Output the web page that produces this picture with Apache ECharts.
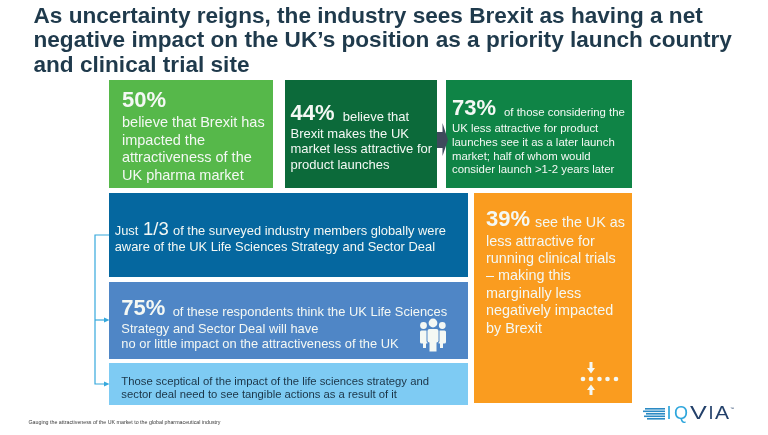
<!DOCTYPE html>
<html>
<head>
<meta charset="utf-8">
<style>
  html, body { margin: 0; padding: 0; background: #fff; }
  #chart { width: 768px; height: 435px; }
</style>
<script src="https://cdn.jsdelivr.net/npm/echarts@6/dist/echarts.min.js"></script>
</head>
<body>
<div id="chart"></div>
<script>
// text
const titleLines = [
  'As uncertainty reigns, the industry sees Brexit as having a net',
  'negative impact on the UK\u2019s position as a priority launch country',
  'and clinical trial site'
];
const headlineValues = ['50%', '44%', '73%', '1/3', '75%', '39%'];
const box1Lines = ['believe that Brexit has', 'impacted the', 'attractiveness of the', 'UK pharma market'];
const box2Lead = 'believe that';
const box2Lines = ['Brexit makes the UK', 'market less attractive for', 'product launches'];
const box3Lead = 'of those considering the';
const box3Lines = ['UK less attractive for product', 'launches see it as a later launch', 'market; half of whom would', 'consider launch >1-2 years later'];
const box4Start = 'Just';
const box4Lead = 'of the surveyed industry members globally were';
const box4Lines = ['aware of the UK Life Sciences Strategy and Sector Deal'];
const box5Lead = 'of these respondents think the UK Life Sciences';
const box5Lines = ['Strategy and Sector Deal will have', 'no or little impact on the attractiveness of the UK'];
const box6Lines = ['Those sceptical of the impact of the life sciences strategy and', 'sector deal need to see tangible actions as a result of it'];
const box7Lead = 'see the UK as';
const box7Lines = ['less attractive for', 'running clinical trials', '\u2013 making this', 'marginally less', 'negatively impacted', 'by Brexit'];
const footnote = 'Gauging the attractiveness of the UK market to the global pharmaceutical industry';
const logoLetters = ['I', 'Q', 'V', 'I', 'A'];

const FONT = '"Liberation Sans", Arial, sans-serif';
const els = [];

// canvas text is placed by its middle, so go from baseline to middle here
function txt(s, x, base, size, fill, bold, align, scaleX) {
  els.push({
    type: 'text', silent: true,
    x: x, y: base + 1 - size * 0.346, scaleX: scaleX || 1,
    style: {
      text: s,
      font: (bold ? 'bold ' : '') + size + 'px ' + FONT,
      fill: fill, textAlign: align || 'left', textVerticalAlign: 'middle'
    }
  });
}
function lines(arr, x, bases, size, fill) {
  arr.forEach(function (s, i) { txt(s, x, bases[i], size, fill); });
}
function rect(x, y, w, h, fill, r) {
  els.push({ type: 'rect', silent: true, shape: { x: x, y: y, width: w, height: h, r: r || 0 }, style: { fill: fill } });
}
function circle(cx, cy, r, fill) {
  els.push({ type: 'circle', silent: true, shape: { cx: cx, cy: cy, r: r }, style: { fill: fill } });
}
function poly(points, fill) {
  els.push({ type: 'polygon', silent: true, shape: { points: points }, style: { fill: fill } });
}
function wire(points, color) {
  els.push({ type: 'polyline', silent: true, shape: { points: points }, style: { stroke: color, lineWidth: 1.2, fill: null } });
}

const WHITE = '#f4f8f4';
const DARK = '#1f3a4c';
const LINK = '#35a8dc';

// title
[23.5, 48, 72.5].forEach(function (b, i) { txt(titleLines[i], 33.5, b, 22.6, DARK, true); });

// boxes
rect(109, 80, 164, 108, '#56b84a');
rect(285, 80, 152, 108, '#0c6a3a');
rect(446, 80, 186, 108, '#0f8446');
rect(109, 193, 359, 84, '#05679f');
rect(109, 282, 359, 77, '#4f86c6');
rect(109, 363, 359, 42, '#7ecbf3');
rect(474, 193, 158, 210, '#fa9c1f');

// arrow box 2 -> box 3
poly([[437, 132], [442.5, 132], [442.5, 123], [448, 140], [442.5, 156], [442.5, 148], [437, 148]], '#3e4a5c');

// connector on the left
wire([[109, 235], [95, 235], [95, 384], [105, 384]], LINK);
wire([[95, 320], [105, 320]], LINK);
poly([[104, 317.5], [109.5, 320], [104, 322.5]], LINK);
poly([[104, 381.5], [109.5, 384], [104, 386.5]], LINK);

// box 1
txt(headlineValues[0], 122, 108, 22, WHITE, true);
lines(box1Lines, 122, [127.3, 145, 162.5, 180], 14.5, WHITE);

// box 2
txt(headlineValues[1], 290.5, 120.7, 22, WHITE, true);
txt(box2Lead, 342.7, 120.7, 13, WHITE);
lines(box2Lines, 290.5, [138, 153.3, 168.7], 13, WHITE);

// box 3
txt(headlineValues[2], 452, 116, 22, WHITE, true);
txt(box3Lead, 504, 116, 11.4, WHITE);
lines(box3Lines, 452, [132, 146, 159.7, 173.3], 11.4, WHITE);

// box 4
txt(box4Start, 114.7, 235, 12.9, WHITE);
txt(headlineValues[3], 143, 235, 18.5, WHITE);
txt(box4Lead, 173, 235, 12.9, WHITE);
lines(box4Lines, 114.7, [251], 12.9, WHITE);

// box 5
txt(headlineValues[4], 121.3, 316, 22, WHITE, true);
txt(box5Lead, 172.7, 316, 12.9, WHITE);
lines(box5Lines, 121.3, [333, 348], 12.9, WHITE);

// people icon
circle(423.5, 325.5, 3.4, WHITE);
circle(442.3, 325.5, 3.4, WHITE);
rect(420, 330.5, 8, 13, WHITE, 1.5);
rect(438, 330.5, 8, 13, WHITE, 1.5);
rect(423, 343, 3, 5, WHITE);
rect(440, 343, 3, 5, WHITE);
circle(433, 323, 4.4, WHITE);
rect(426.5, 328.5, 13, 14.5, '#4f86c6', 2);
rect(427.5, 329, 11, 13.5, WHITE, 2);
rect(429.5, 342, 7, 9.5, WHITE);

// box 6
lines(box6Lines, 121.3, [385, 398], 11.3, '#1b3446');

// orange box
txt(headlineValues[5], 486, 226.7, 22, WHITE, true);
txt(box7Lead, 535, 226.7, 14.3, WHITE);
lines(box7Lines, 486, [245.7, 263, 280.5, 298, 315.5, 333], 14.4, WHITE);

// dots and arrows icon
[583, 591, 599.5, 607.5, 616].forEach(function (x) { circle(x, 379, 2.3, WHITE); });
poly([[589.5, 362], [592.5, 362], [592.5, 368], [595, 368], [591, 373.5], [587, 368], [589.5, 368]], WHITE);
poly([[589.5, 395], [592.5, 395], [592.5, 390], [595, 390], [591, 384.5], [587, 390], [589.5, 390]], WHITE);

// footnote
txt(footnote, 28.5, 423, 5.3, '#3a3a3a');

// logo
[[645, 408, 20], [643, 410.5, 22], [646, 413, 19], [644, 415.5, 21], [647, 418, 18]].forEach(function (s) {
  rect(s[0], s[1], s[2], 1.6, '#2b8ac4');
});
[[669, 1], [681, 1], [698.5, 1.4], [711, 1], [722, 1.17]].forEach(function (p, i) {
  txt(logoLetters[i], p[0], 419.5, 18, i < 2 ? '#2ea6dc' : '#23406a', false, 'center', p[1]);
});
txt('\u2122', 732, 409, 4, '#23406a', false, 'center');

const chart = echarts.init(document.getElementById('chart'), null, { renderer: 'canvas' });
chart.setOption({
  backgroundColor: '#ffffff',
  animation: false,
  graphic: { elements: els }
});
</script>
</body>
</html>
